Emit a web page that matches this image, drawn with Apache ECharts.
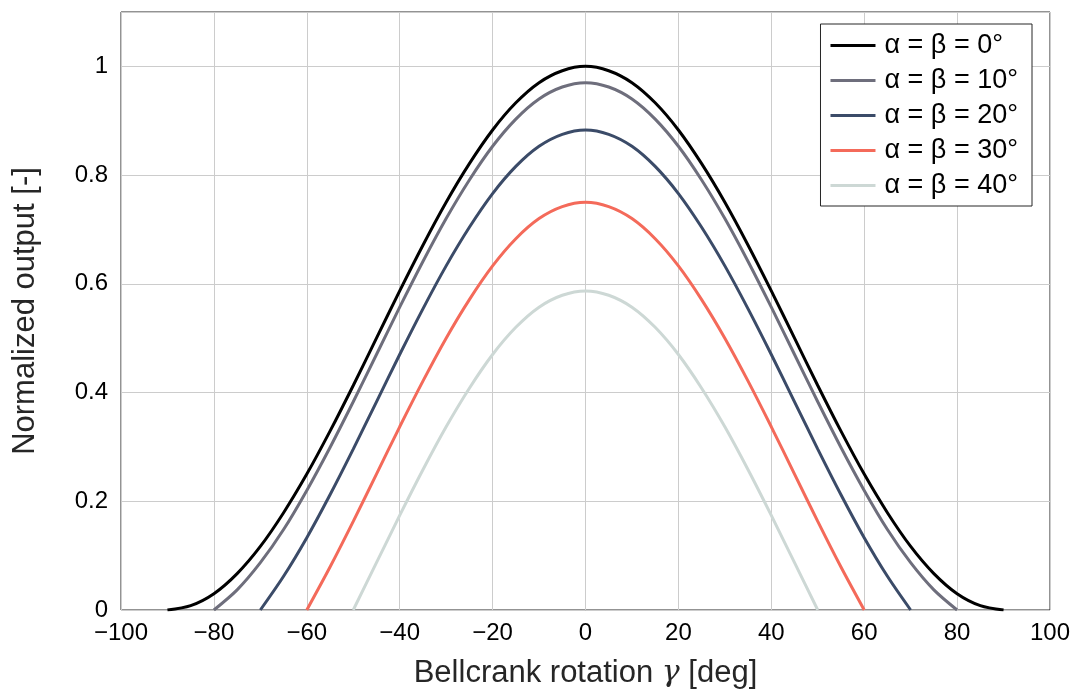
<!DOCTYPE html>
<html>
<head>
<meta charset="utf-8">
<script src="https://cdn.jsdelivr.net/npm/echarts@6/dist/echarts.min.js"></script>
<style>
  html, body { margin: 0; padding: 0; background: #fff; }
  #chart { width: 1076px; height: 691px; }
</style>
</head>
<body>
<div id="chart"></div>
<script>
// bellcrank rotation angles (deg), one array per curve
var gamma0  = [-90,-85,-80,-75,-70,-65,-60,-55,-50,-45,-40,-35,-30,-25,-20,-15,-10,-5,0,5,10,15,20,25,30,35,40,45,50,55,60,65,70,75,80,85,90];
var gamma10 = [-80,-75,-70,-65,-60,-55,-50,-45,-40,-35,-30,-25,-20,-15,-10,-5,0,5,10,15,20,25,30,35,40,45,50,55,60,65,70,75,80];
var gamma20 = [-70,-65,-60,-55,-50,-45,-40,-35,-30,-25,-20,-15,-10,-5,0,5,10,15,20,25,30,35,40,45,50,55,60,65,70];
var gamma30 = [-60,-55,-50,-45,-40,-35,-30,-25,-20,-15,-10,-5,0,5,10,15,20,25,30,35,40,45,50,55,60];
var gamma40 = [-50,-45,-40,-35,-30,-25,-20,-15,-10,-5,0,5,10,15,20,25,30,35,40,45,50];

// normalized output
var out0  = [0,0.008,0.030,0.067,0.117,0.179,0.250,0.329,0.413,0.500,0.587,0.671,0.750,0.821,0.883,0.933,0.970,0.992,1.000,
             0.992,0.970,0.933,0.883,0.821,0.750,0.671,0.587,0.500,0.413,0.329,0.250,0.179,0.117,0.067,0.030,0.008,0];
var out10 = [0,0.037,0.087,0.148,0.220,0.299,0.383,0.470,0.557,0.641,0.720,0.791,0.853,0.903,0.940,0.962,0.970,
             0.962,0.940,0.903,0.853,0.791,0.720,0.641,0.557,0.470,0.383,0.299,0.220,0.148,0.087,0.037,0];
var out20 = [0,0.062,0.133,0.212,0.296,0.383,0.470,0.554,0.633,0.704,0.766,0.816,0.853,0.875,0.883,
             0.875,0.853,0.816,0.766,0.704,0.633,0.554,0.470,0.383,0.296,0.212,0.133,0.062,0];
var out30 = [0,0.079,0.163,0.250,0.337,0.421,0.500,0.571,0.633,0.683,0.720,0.742,0.750,
             0.742,0.720,0.683,0.633,0.571,0.500,0.421,0.337,0.250,0.163,0.079,0];
var out40 = [0,0.087,0.174,0.258,0.337,0.408,0.470,0.520,0.557,0.579,0.587,
             0.579,0.557,0.520,0.470,0.408,0.337,0.258,0.174,0.087,0];

var names  = ['α = β = 0°', 'α = β = 10°', 'α = β = 20°', 'α = β = 30°', 'α = β = 40°'];
var colors = ['#000000', '#6e6e7c', '#3b4b68', '#f46a5a', '#cdd8d5'];

var xs = [gamma0, gamma10, gamma20, gamma30, gamma40];
var ys = [out0, out10, out20, out30, out40];

var font = 'Liberation Sans, Arial, sans-serif';

function pairs(x, y) {
    var d = [];
    for (var i = 0; i < x.length; i++) d.push([x[i], y[i]]);
    return d;
}

var series = [];
for (var k = 0; k < names.length; k++) {
    series.push({
        name: names[k],
        type: 'line',
        data: pairs(xs[k], ys[k]),
        smooth: 0.3,
        showSymbol: false,
        symbol: 'none',
        lineStyle: { color: colors[k], width: 3 },
        itemStyle: { color: colors[k] }
    });
}

var chart = echarts.init(document.getElementById('chart'));
chart.setOption({
    animation: false,
    backgroundColor: '#fff',
    grid: {
        left: 121, right: 26, top: 12, bottom: 81,
        outerBoundsMode: 'none',
        show: true, borderColor: '#262626', borderWidth: 1
    },
    legend: {
        orient: 'vertical',
        right: 44, top: 24,
        padding: [8, 14, 7, 10],
        itemWidth: 45, itemHeight: 14, itemGap: 8,
        backgroundColor: '#fff',
        borderColor: '#262626', borderWidth: 1, borderRadius: 0,
        icon: 'path://M0,5.5 L45,5.5 L45,8.5 L0,8.5 Z',
        textStyle: { fontFamily: font, fontSize: 27, color: '#000', lineHeight: 26, padding: [0, 0, 0, 4] },
        data: names
    },
    xAxis: {
        type: 'value', min: -100, max: 100, interval: 20,
        name: '{n|Bellcrank rotation }{g|γ}{n| [deg]}',
        nameLocation: 'middle', nameGap: 48,
        nameTextStyle: {
            rich: {
                n: { fontFamily: font, fontSize: 31, color: '#262626' },
                g: { fontFamily: 'DejaVu Serif, serif', fontStyle: 'italic', fontSize: 30, color: '#262626' }
            }
        },
        axisLine: { show: false },
        axisTick: { show: false },
        splitLine: { show: true, lineStyle: { color: '#cccccc', width: 1 } },
        axisLabel: {
            fontFamily: font, fontSize: 24, color: '#000', margin: 11,
            formatter: function (v) { return String(v).replace('-', '\u2212'); }
        }
    },
    yAxis: {
        type: 'value', min: 0, max: 1.1, interval: 0.2,
        name: 'Normalized output [-]',
        nameLocation: 'middle', nameGap: 80,
        nameTextStyle: { fontFamily: font, fontSize: 31, color: '#262626' },
        axisLine: { show: false },
        axisTick: { show: false },
        splitLine: { show: true, lineStyle: { color: '#cccccc', width: 1 } },
        axisLabel: {
            fontFamily: font, fontSize: 24, color: '#000', margin: 13,
            showMaxLabel: false,
            formatter: function (v) { return v === 0 ? '0' : (v === 1 ? '1' : String(Math.round(v * 10) / 10)); }
        }
    },
    series: series
});
</script>
</body>
</html>
